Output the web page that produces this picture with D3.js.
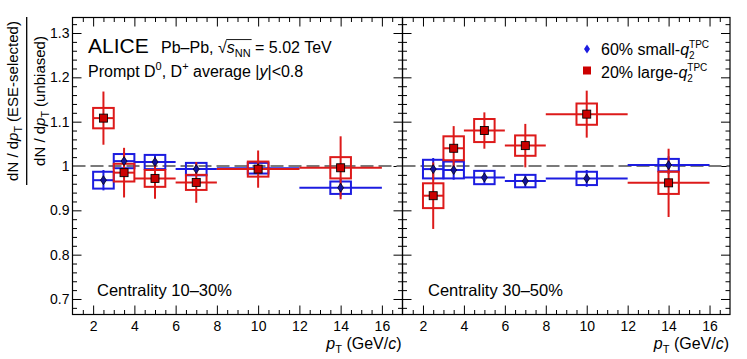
<!DOCTYPE html>
<html>
<head>
<meta charset="utf-8">
<script src="https://cdn.jsdelivr.net/npm/d3@7"></script>
<style>
  body { margin: 0; background: #fff; }
  text { font-family: "Liberation Sans", Arial, Helvetica, sans-serif; fill: #000; white-space: pre; }
</style>
</head>
<body>
<div id="chart"></div>
<script>
// pT bins (GeV/c)
var ptCenter = [2.5, 3.5, 5, 7, 10, 14];
var ptLow    = [2, 3, 4, 6, 8, 12];
var ptHigh   = [3, 4, 6, 8, 12, 16];

// centrality 10-30%
var small1030     = [0.968, 1.011, 1.009, 0.993, 0.995, 0.951];
var small1030Stat = [0.023, 0.020, 0.016, 0.012, 0.012, 0.020];
var small1030Syst = [0.019, 0.016, 0.016, 0.014, 0.012, 0.014];
var large1030     = [1.108, 0.985, 0.972, 0.963, 0.993, 0.996];
var large1030Stat = [0.060, 0.056, 0.046, 0.046, 0.042, 0.071];
var large1030Syst = [0.023, 0.020, 0.019, 0.017, 0.017, 0.024];

// centrality 30-50%
var small3050     = [0.993, 0.991, 0.974, 0.966, 0.972, 1.002];
var small3050Stat = [0.025, 0.022, 0.014, 0.014, 0.019, 0.020];
var small3050Syst = [0.021, 0.019, 0.015, 0.014, 0.015, 0.014];
var large3050     = [0.933, 1.040, 1.080, 1.046, 1.117, 0.962];
var large3050Stat = [0.075, 0.050, 0.041, 0.049, 0.053, 0.077];
var large3050Syst = [0.028, 0.027, 0.026, 0.023, 0.024, 0.025];

var xMajor = [2, 4, 6, 8, 10, 12, 14, 16];
var yMajor = [0.7, 0.8, 0.9, 1.0, 1.1, 1.2, 1.3];

(function() {
  var width = 747, height = 359;
  var frameTop = 17.5, frameBottom = 314.5;
  var fontSize = 16, tickFont = 14;
  var red = "#dd1a1a", redFill = "#cc0000";
  var blue = "#1c1ce0", blueFill = "#12129a";

  var svg = d3.select("#chart").append("svg")
      .attr("width", width)
      .attr("height", height);

  svg.append("rect").attr("width", width).attr("height", height).attr("fill", "#fff");

  var y = d3.scaleLinear().domain([0.665, 1.335]).range([frameBottom, frameTop]);

  var xMinor = d3.range(1.5, 17, 0.5).filter(function(v) { return v % 2 !== 0; });
  var yMinor = d3.range(0.68, 1.33, 0.02).filter(function(v) {
    return Math.abs(Math.round(v * 10) - v * 10) > 0.01;
  });

  // piece-by-piece text with italic / sub / sup
  function rich(g, x, yb, parts, size) {
    var cx = x, prevStart = x;
    parts.forEach(function(p) {
      var fs = p.size || size;
      var dy = p.sub ? size * (p.low || 0.28) : (p.sup ? -size * (p.high || 0.42) : 0);
      var px = p.stack ? prevStart : cx;
      var t = g.append("text")
        .attr("x", px)
        .attr("y", yb + dy)
        .attr("font-size", fs)
        .text(p.t);
      if (p.italic) t.attr("font-style", "italic");
      var w = t.node().getComputedTextLength();
      cx = p.stack ? Math.max(cx, px + w) : px + w;
      prevStart = px;
    });
    return cx;
  }

  var panels = [
    { x0: 72.5, x1: 402.5, label: "Centrality 10\u201330%", labelX: 97,
      small: small1030, smallStat: small1030Stat, smallSyst: small1030Syst,
      large: large1030, largeStat: large1030Stat, largeSyst: large1030Syst },
    { x0: 402.5, x1: 730, label: "Centrality 30\u201350%", labelX: 428,
      small: small3050, smallStat: small3050Stat, smallSyst: small3050Syst,
      large: large3050, largeStat: large3050Stat, largeSyst: large3050Syst }
  ];

  panels.forEach(function(P, pi) {
    var x = d3.scaleLinear().domain([1, 17]).range([P.x0, P.x1]);
    var g = svg.append("g");

    // ticks, bottom + top
    var bot = g.append("g").attr("transform", "translate(0," + frameBottom + ")");
    bot.call(d3.axisBottom(x).tickValues(xMajor).tickSize(-9).tickPadding(7));
    bot.append("g").call(d3.axisBottom(x).tickValues(xMinor).tickSize(-4.5).tickFormat(""));
    var topAx = g.append("g").attr("transform", "translate(0," + frameTop + ")");
    topAx.call(d3.axisTop(x).tickValues(xMajor).tickSize(-9).tickFormat(""));
    topAx.append("g").call(d3.axisTop(x).tickValues(xMinor).tickSize(-4.5).tickFormat(""));

    // y ticks, left + right
    var left = g.append("g").attr("transform", "translate(" + P.x0 + ",0)");
    left.call(d3.axisLeft(y).tickValues(yMajor).tickSize(-9).tickPadding(3)
      .tickFormat(pi === 0 ? function(d) { return Math.abs(d - 1) < 1e-9 ? "1" : d3.format(".1f")(d); } : ""));
    left.append("g").call(d3.axisLeft(y).tickValues(yMinor).tickSize(-4.5).tickFormat(""));
    var right = g.append("g").attr("transform", "translate(" + P.x1 + ",0)");
    right.call(d3.axisRight(y).tickValues(yMajor).tickSize(-9).tickFormat(""));
    right.append("g").call(d3.axisRight(y).tickValues(yMinor).tickSize(-4.5).tickFormat(""));

    g.selectAll(".domain").remove();
    g.selectAll(".tick line").attr("stroke", "#000").attr("stroke-width", 1);
    g.selectAll(".tick text").attr("font-size", tickFont)
      .attr("font-family", "\"Liberation Sans\", Arial, sans-serif").attr("fill", "#000");

    // reference line at 1
    g.append("line")
      .attr("x1", P.x0).attr("x2", P.x1)
      .attr("y1", y(1)).attr("y2", y(1))
      .attr("stroke", "#7a7a7a").attr("stroke-width", 1.8)
      .attr("stroke-dasharray", "13,5");

    function bandLayer(vals, stat, syst, col) {
      var s = g.append("g");
      s.selectAll(".syst").data(vals).enter().append("rect")
        .attr("x", function(d, i) { return x(ptCenter[i] - 0.5); })
        .attr("width", function(d, i) { return x(ptCenter[i] + 0.5) - x(ptCenter[i] - 0.5); })
        .attr("y", function(d, i) { return y(d + syst[i]); })
        .attr("height", function(d, i) { return y(d - syst[i]) - y(d + syst[i]); })
        .attr("fill", "none").attr("stroke", col).attr("stroke-width", 2);
      s.selectAll(".hbar").data(vals).enter().append("line")
        .attr("x1", function(d, i) { return x(ptLow[i]); })
        .attr("x2", function(d, i) { return x(ptHigh[i]); })
        .attr("y1", function(d) { return y(d); })
        .attr("y2", function(d) { return y(d); })
        .attr("stroke", col).attr("stroke-width", 2);
      s.selectAll(".vbar").data(vals).enter().append("line")
        .attr("x1", function(d, i) { return x(ptCenter[i]); })
        .attr("x2", function(d, i) { return x(ptCenter[i]); })
        .attr("y1", function(d, i) { return y(d + stat[i]); })
        .attr("y2", function(d, i) { return y(d - stat[i]); })
        .attr("stroke", col).attr("stroke-width", 2);
    }

    bandLayer(P.small, P.smallStat, P.smallSyst, blue);
    bandLayer(P.large, P.largeStat, P.largeSyst, red);

    g.selectAll(".dia").data(P.small).enter().append("path")
      .attr("d", "M0,-4.5L3,0L0,4.5L-3,0Z")
      .attr("transform", function(d, i) { return "translate(" + x(ptCenter[i]) + "," + y(d) + ")"; })
      .attr("fill", blueFill).attr("stroke", "#000").attr("stroke-width", 0.7);
    g.selectAll(".sq").data(P.large).enter().append("rect")
      .attr("x", function(d, i) { return x(ptCenter[i]) - 4; })
      .attr("y", function(d) { return y(d) - 4; })
      .attr("width", 8).attr("height", 8)
      .attr("fill", redFill).attr("stroke", "#000").attr("stroke-width", 0.9);

    // frame
    g.append("rect")
      .attr("x", P.x0).attr("y", frameTop)
      .attr("width", P.x1 - P.x0).attr("height", frameBottom - frameTop)
      .attr("fill", "none").attr("stroke", "#000").attr("stroke-width", 1.2);

    g.append("text").attr("x", P.labelX).attr("y", 296)
      .attr("font-size", 16.5).text(P.label);

    // x title, right aligned
    var xt = g.append("g");
    var w = rich(xt, 0, 349, [
      { t: "p", italic: true, size: 16 },
      { t: "T", sub: true, size: 11 },
      { t: " (GeV/", size: 16 },
      { t: "c", italic: true, size: 16 },
      { t: ")", size: 16 }
    ], 16);
    xt.attr("transform", "translate(" + (P.x1 - 1 - w) + ",0)");
  });

  // header texts
  svg.append("text").attr("x", 88).attr("y", 53).attr("font-size", 21).text("ALICE");
  var hx = rich(svg, 161, 53, [{ t: "Pb\u2013Pb, \u221A" }], fontSize);
  var ovStart = hx;
  hx = rich(svg, hx, 53, [
    { t: "s", italic: true },
    { t: "NN", sub: true, size: 11 }
  ], fontSize);
  svg.append("line").attr("x1", ovStart - 0.5).attr("x2", hx + 1)
    .attr("y1", 53 - fontSize * 0.84).attr("y2", 53 - fontSize * 0.84)
    .attr("stroke", "#000").attr("stroke-width", 0.9);
  rich(svg, hx, 53, [{ t: " = 5.02 TeV" }], fontSize);

  rich(svg, 88, 77, [
    { t: "Prompt D" },
    { t: "0", sup: true, size: 11 },
    { t: ", D" },
    { t: "+", sup: true, size: 11 },
    { t: " average |" },
    { t: "y", italic: true },
    { t: "|<0.8" }
  ], fontSize);

  // legend
  var legendRows = [
    { y: 55, label: "60% small-" },
    { y: 78, label: "20% large-" }
  ];
  svg.append("path").attr("d", "M0,-4.5L3,0L0,4.5L-3,0Z")
    .attr("transform", "translate(587,49)")
    .attr("fill", blue).attr("stroke", "none");
  svg.append("rect").attr("x", 583).attr("y", 66.5).attr("width", 8).attr("height", 8)
    .attr("fill", redFill);
  legendRows.forEach(function(r) {
    rich(svg, 601, r.y, [
      { t: r.label },
      { t: "q", italic: true },
      { t: "2", sub: true, low: 0.28, size: 10 },
      { t: "TPC", sup: true, high: 0.45, stack: true, size: 10 }
    ], fontSize);
  });

  // y title as a fraction
  function yTitle(bx, part2) {
    var outer = svg.append("g").attr("transform", "translate(" + bx + ",101) rotate(-90)");
    var inner = outer.append("g");
    var w = rich(inner, 0, 0, [
      { t: "dN / d" },
      { t: "p", italic: true },
      { t: "T", sub: true, size: 10.5 },
      { t: " (" + part2 + ")" }
    ], 15);
    inner.attr("transform", "translate(" + (-w / 2) + ",0)");
  }
  yTitle(18, "ESE-selected");
  yTitle(44.5, "unbiased");
  svg.append("line").attr("x1", 26.7).attr("x2", 26.7)
    .attr("y1", 17).attr("y2", 185)
    .attr("stroke", "#000").attr("stroke-width", 1.3);
})();
</script>
</body>
</html>
